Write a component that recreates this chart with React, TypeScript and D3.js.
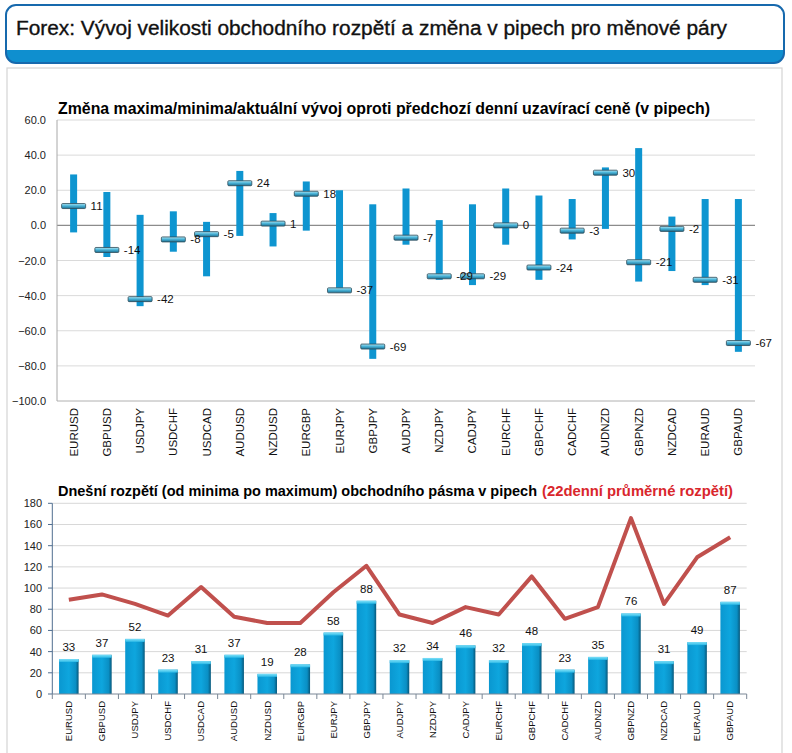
import React from "react";
import * as d3 from "d3";

const categories = ["EURUSD","GBPUSD","USDJPY","USDCHF","USDCAD","AUDUSD","NZDUSD","EURGBP","EURJPY","GBPJPY","AUDJPY","NZDJPY","CADJPY","EURCHF","GBPCHF","CADCHF","AUDNZD","GBPNZD","NZDCAD","EURAUD","GBPAUD"];
const currentChange = [11,-14,-42,-8,-5,24,1,18,-37,-69,-7,-29,-29,0,-24,-3,30,-21,-2,-31,-67];
const dayHigh = [29,19,6,8,2,31,7,25,20,12,21,3,12,21,17,15,33,44,5,15,15];
const dayLow = [-4,-18,-46,-15,-29,-6,-12,-3,-38,-76,-11,-31,-34,-11,-31,-8,-2,-32,-26,-34,-72];
const dailyRange = [33,37,52,23,31,37,19,28,58,88,32,34,46,32,48,23,35,76,31,49,87];
const avgRange22 = [89,94,85,74,101,73,67,67,96,121,75,67,82,75,111,71,82,166,85,129,148];
const topTicks = [60,40,20,0,-20,-40,-60,-80,-100];
const bottomTicks = [0,20,40,60,80,100,120,140,160,180];

const mainTitle = "Forex: Vývoj velikosti obchodního rozpětí a změna v pipech pro měnové páry";
const topTitle = "Změna maxima/minima/aktuální vývoj oproti předchozí denní uzavírací ceně (v pipech)";
const bottomTitleA = "Dnešní rozpětí (od minima po maximum) obchodního pásma v pipech";
const bottomTitleB = "(22denní průměrné rozpětí)";

const FONT = "'Liberation Sans', Arial, sans-serif";
const NARROW = "'Liberation Sans Narrow', 'Arial Narrow', 'Liberation Sans', Arial, sans-serif";

export default function App() {
  const xT = d3.scaleBand<string>().domain(categories).range([57, 755]).padding(0);
  const yT = d3.scaleLinear().domain([-100, 60]).range([401, 120]);
  const xB = d3.scaleBand<string>().domain(categories).range([52.3, 746.7]).padding(0);
  const yB = d3.scaleLinear().domain([0, 180]).range([694, 503.3]);

  const line = d3
    .line<number>()
    .x((_, i) => (xB(categories[i]) as number) + xB.bandwidth() / 2)
    .y((d) => yB(d));

  const barW = xB.bandwidth() * 0.59;
  const cT = (c: string) => (xT(c) as number) + xT.bandwidth() / 2;
  const cB = (c: string) => (xB(c) as number) + xB.bandwidth() / 2;

  return (
    <svg width={792} height={753} style={{ position: "absolute", left: 0, top: 0, background: "#fff" }} fontFamily={FONT}>
      <defs>
        <clipPath id="hdrClip">
          <rect x={6} y={5} width={778} height={58} rx={10} ry={10} />
        </clipPath>
        <linearGradient id="markGrad" x1="0" y1="0" x2="0" y2="1">
          <stop offset="0" stopColor="#b5e6f2" />
          <stop offset="0.45" stopColor="#4cb6da" />
          <stop offset="1" stopColor="#1d6f91" />
        </linearGradient>
        <linearGradient id="barGrad" x1="0" y1="0" x2="1" y2="0">
          <stop offset="0" stopColor="#0a97d0" />
          <stop offset="0.5" stopColor="#0ea6de" />
          <stop offset="0.85" stopColor="#0a8fc4" />
          <stop offset="1" stopColor="#06577a" />
        </linearGradient>
        <linearGradient id="capGrad" x1="0" y1="0" x2="0" y2="1">
          <stop offset="0" stopColor="#7ee0f8" />
          <stop offset="1" stopColor="#2ab8e6" />
        </linearGradient>
      </defs>

      {/* Header */}
      <g>
        <rect x={6} y={5} width={778} height={58} rx={10} ry={10} fill="#fff" />
        <rect x={6} y={50} width={778} height={14} fill="#0f8fcf" clipPath="url(#hdrClip)" />
        <rect x={6} y={5} width={778} height={58} rx={10} ry={10} fill="none" stroke="#1769ad" strokeWidth={2} />
        <text x={16} y={35} fontSize={20} fill="#111" stroke="#111" strokeWidth={0.35} textLength={711} lengthAdjust="spacingAndGlyphs">
          {mainTitle}
        </text>
      </g>

      {/* Panel */}
      <rect x={7} y={68} width={775} height={700} fill="#fff" stroke="#d4d4d4" strokeWidth={1.2} />

      {/* Top chart */}
      <g>
        <text x={58} y={114} fontSize={16} fontWeight="bold" fill="#000" textLength={652} lengthAdjust="spacingAndGlyphs">
          {topTitle}
        </text>
        {topTicks.map((t) => (
          <g key={"tg" + t}>
            <line
              x1={57}
              x2={755}
              y1={yT(t)}
              y2={yT(t)}
              stroke={t === 0 ? "#8c8c8c" : t === -100 ? "#b0b0b0" : "#dadada"}
              strokeWidth={t === 0 ? 1.3 : 1}
            />
            <text x={46} y={yT(t) + 4} fontSize={11} textAnchor="end" fill="#222">
              {d3.format(".1f")(t)}
            </text>
          </g>
        ))}
        <line x1={57} x2={57} y1={120} y2={401} stroke="#a8a8a8" strokeWidth={1} />
        {categories.map((c, i) => (
          <rect
            key={"tr" + c}
            x={cT(c) - 3.5}
            y={yT(dayHigh[i])}
            width={7}
            height={yT(dayLow[i]) - yT(dayHigh[i])}
            fill="#0e95d0"
          />
        ))}
        {categories.map((c, i) => (
          <rect
            key={"tm" + c}
            x={cT(c) - 12}
            y={yT(currentChange[i]) - 2.5}
            width={24}
            height={5}
            fill="url(#markGrad)"
            stroke="#2c4a58"
            strokeWidth={0.8}
            rx={1}
          />
        ))}
        {categories.map((c, i) => (
          <text key={"tl" + c} x={cT(c) + 17} y={yT(currentChange[i]) + 4} fontSize={11.5} fill="#111">
            {currentChange[i]}
          </text>
        ))}
        {categories.map((c) => (
          <text
            key={"tx" + c}
            transform={`translate(${cT(c) + 4},408) rotate(-90)`}
            textAnchor="end"
            fontSize={11.5}
            fontFamily={NARROW}
            fill="#111"
          >
            {c}
          </text>
        ))}
      </g>

      {/* Bottom chart */}
      <g>
        <text x={58} y={496} fontSize={15} fontWeight="bold" fill="#000" textLength={479} lengthAdjust="spacingAndGlyphs">
          {bottomTitleA}
        </text>
        <text x={542} y={496} fontSize={15} fontWeight="bold" fill="#d9262c" textLength={191} lengthAdjust="spacingAndGlyphs">
          {bottomTitleB}
        </text>
        {bottomTicks.map((t) => (
          <g key={"bg" + t}>
            {t > 0 && <line x1={52.3} x2={746.7} y1={yB(t)} y2={yB(t)} stroke="#d8d8d8" strokeWidth={1} />}
            <line x1={48} x2={52.3} y1={yB(t)} y2={yB(t)} stroke="#4f6d8f" strokeWidth={1} />
            <text x={42} y={yB(t) + 4} fontSize={11} textAnchor="end" fill="#222">
              {t}
            </text>
          </g>
        ))}
        {categories.map((c, i) => {
          const cx = cB(c);
          const top = yB(dailyRange[i]);
          return (
            <g key={"bb" + c}>
              <rect x={cx - barW / 2} y={top} width={barW} height={yB(0) - top} fill="url(#barGrad)" />
              <rect x={cx - barW / 2} y={top} width={barW} height={3} fill="url(#capGrad)" />
              <text x={cx} y={top - 8} fontSize={11.5} textAnchor="middle" fill="#111">
                {dailyRange[i]}
              </text>
            </g>
          );
        })}
        <path d={line(avgRange22) || ""} fill="none" stroke="#c0504d" strokeWidth={4} strokeLinejoin="round" />
        <line x1={52.3} x2={52.3} y1={503.3} y2={694} stroke="#4f6d8f" strokeWidth={1} />
        <line x1={52.3} x2={746.7} y1={694} y2={694} stroke="#7a8796" strokeWidth={1} />
        {categories.map((c, i) => {
          const x0 = xB(c) as number;
          return (
            <g key={"bx" + c}>
              <line x1={x0} x2={x0} y1={694} y2={699} stroke="#7a8796" strokeWidth={1} />
              {i === categories.length - 1 && (
                <line x1={x0 + xB.bandwidth()} x2={x0 + xB.bandwidth()} y1={694} y2={699} stroke="#7a8796" strokeWidth={1} />
              )}
              <text
                transform={`translate(${cB(c) + 3.3},701) rotate(-90)`}
                textAnchor="end"
                fontSize={9.5}
                fontFamily={NARROW}
                fill="#111"
              >
                {c}
              </text>
            </g>
          );
        })}
      </g>
    </svg>
  );
}
